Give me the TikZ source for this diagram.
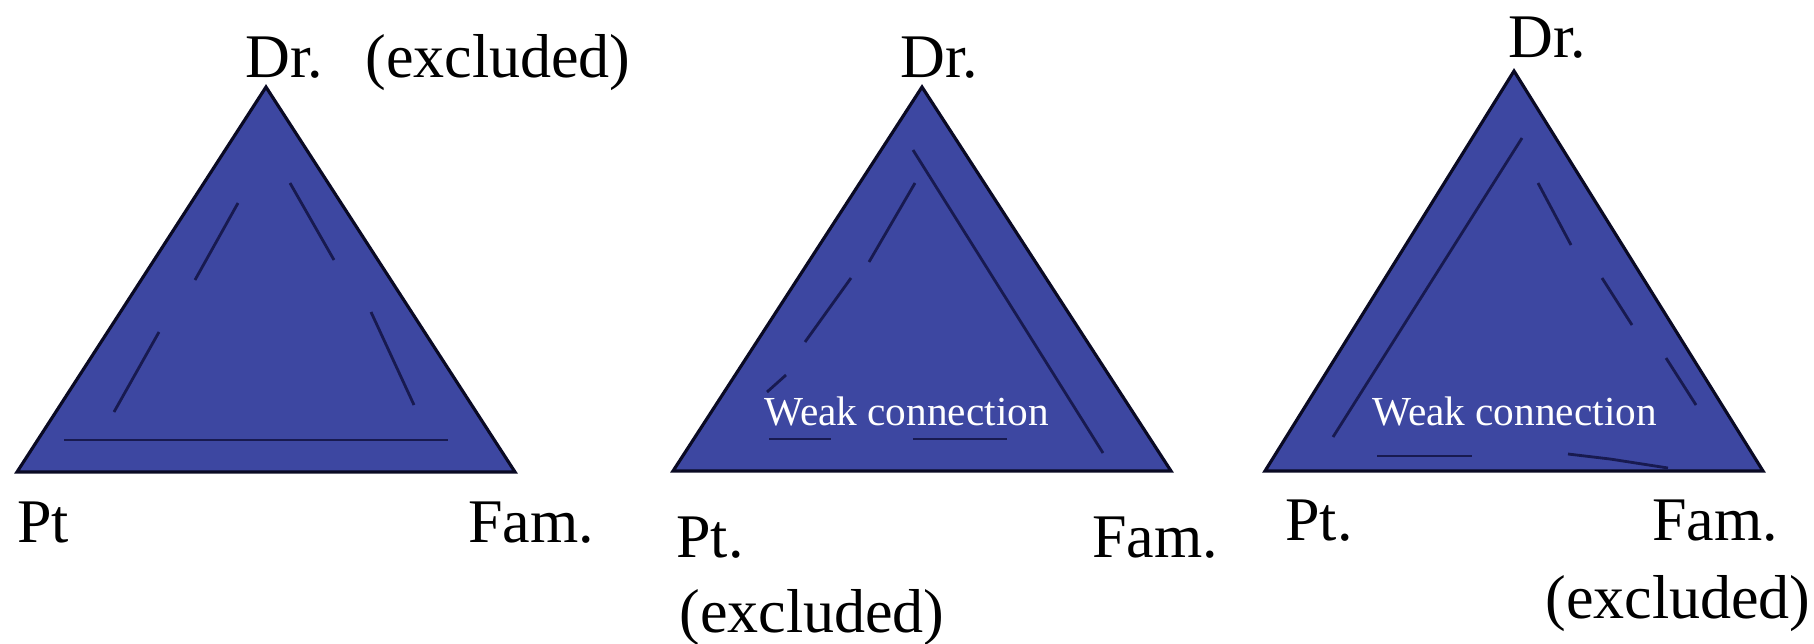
\documentclass[tikz,border=0pt]{standalone}
\usepackage{fontspec}
\setmainfont{Liberation Serif}
\usetikzlibrary{positioning}
\definecolor{triblue}{RGB}{61,71,161}
\definecolor{linenavy}{RGB}{24,26,80}
\definecolor{edgedark}{RGB}{10,10,36}

\begin{document}
\begin{tikzpicture}[
    x=0.02cm, y=-0.02cm,
    triangle/.style={fill=triblue, draw=edgedark, line width=1.8pt, line join=miter},
    inner/.style={draw=linenavy, line width=1.6pt},
    vertex/.style={anchor=base west, inner sep=0pt, font=\fontsize{35.3}{40}\selectfont},
    weak/.style={anchor=base west, inner sep=0pt, text=white, font=\fontsize{23.5}{26}\selectfont}
]
\useasboundingbox (0,0) rectangle (1814,643);

% corners
\coordinate (t1dr) at (266,87);
\coordinate (t1pt) at (17,472);
\coordinate (t1fam) at (515,472);
\coordinate (t2dr) at (922,87);
\coordinate (t2pt) at (673,471);
\coordinate (t2fam) at (1171,471);
\coordinate (t3dr) at (1514,71);
\coordinate (t3pt) at (1265,471);
\coordinate (t3fam) at (1763,471);

% left triangle: doctor excluded
\filldraw[triangle] (t1pt) -- (t1dr) -- (t1fam) -- cycle;
\draw[inner] (238,203) -- (195,280);
\draw[inner] (159,332) -- (114,412);
\draw[inner] (290,183) -- (334,260);
\draw[inner] (371,312) -- (414,405);
\draw[inner] (64,440) -- (448,440);

\node[vertex] (dr1) at (245,77) {Dr.};
\node[vertex] (ex1) at (365,77) {(excluded)};
\node[vertex] (pt1) at (17,542) {Pt};
\node[vertex] (fam1) at (468,542) {Fam.};

% middle triangle: patient excluded
\filldraw[triangle] (t2pt) -- (t2dr) -- (t2fam) -- cycle;
\draw[inner] (913,150) -- (1103,453);
\draw[inner] (915,183) -- (869,262);
\draw[inner] (851,278) -- (805,342);
\draw[inner] (786,375) -- (767,392);
\draw[inner] (769,439) -- (831,439);
\draw[inner] (913,439) -- (1007,439);

\node[weak] (weak2) at (764,425) {Weak connection};
\node[vertex] (dr2) at (900,77) {Dr.};
\node[vertex] (pt2) at (676,557) {Pt.};
\node[vertex] (ex2) at (679,632) {(excluded)};
\node[vertex] (fam2) at (1092,557) {Fam.};

% right triangle: family excluded
\filldraw[triangle] (t3pt) -- (t3dr) -- (t3fam) -- cycle;
\draw[inner] (1522,138) -- (1333,437);
\draw[inner] (1538,183) -- (1571,245);
\draw[inner] (1602,278) -- (1632,325);
\draw[inner] (1666,358) -- (1696,405);
\draw[inner] (1377,456) -- (1472,456);
\draw[inner] (1568,454) -- (1610,459) -- (1668,468);

\node[weak] (weak3) at (1372,425) {Weak connection};
\node[vertex] (dr3) at (1508,57) {Dr.};
\node[vertex] (pt3) at (1285,540) {Pt.};
\node[vertex] (fam3) at (1652,540) {Fam.};
\node[vertex] (ex3) at (1545,618) {(excluded)};

\end{tikzpicture}
\end{document}
